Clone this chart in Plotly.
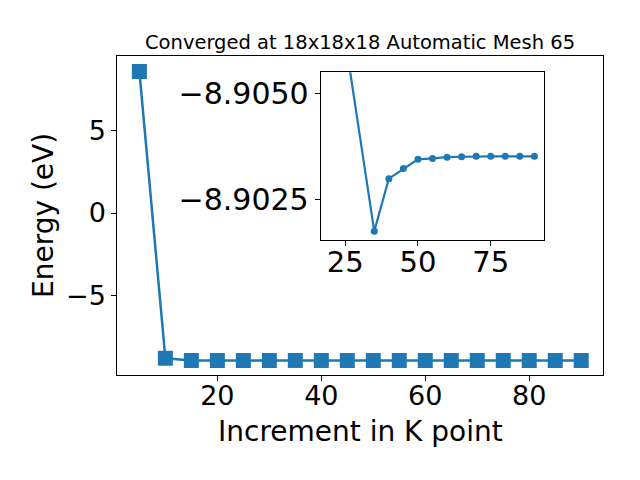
import plotly.graph_objects as go

# Main data
kpoints = [5, 10, 15, 20, 25, 30, 35, 40, 45, 50, 55, 60, 65, 70, 75, 80, 85, 90]
energy = [8.55, -8.77, -8.909, -8.907, -8.9063, -8.906, -8.90174, -8.90299, -8.90323,
          -8.90345, -8.90347, -8.9035, -8.90351, -8.90352, -8.90352, -8.90352, -8.90352, -8.90352]

# Inset data
inset_k = [25, 35, 40, 45, 50, 55, 60, 65, 70, 75, 80, 85, 90]
inset_energy = [-8.90631, -8.90174, -8.90299, -8.90323, -8.90345, -8.90347, -8.9035,
                -8.90351, -8.90352, -8.90352, -8.90352, -8.90352, -8.90352]

main_xticks = [20, 40, 60, 80]
main_yticks = [-5, 0, 5]
inset_xticks = [25, 50, 75]
inset_yticks = [-8.9050, -8.9025]

title = "Converged at 18x18x18 Automatic Mesh 65"
xlabel = "Increment in K point"
ylabel = "Energy (eV)"

C = "#1f77b4"
FONT = "DejaVu Sans"
W, H = 640, 480

fig = go.Figure()
fig.add_trace(go.Scatter(x=kpoints, y=energy, mode="lines+markers",
                         line=dict(color=C, width=2.5),
                         marker=dict(symbol="square", size=15, color=C),
                         xaxis="x", yaxis="y", showlegend=False))
fig.add_trace(go.Scatter(x=inset_k, y=inset_energy, mode="lines+markers",
                         line=dict(color=C, width=2.2),
                         marker=dict(symbol="circle", size=7, color=C),
                         xaxis="x2", yaxis="y2", showlegend=False, cliponaxis=True))

axcommon = dict(showline=True, mirror=True, linecolor="black", linewidth=1.1,
                ticks="outside", ticklen=5, tickwidth=1.1, tickcolor="black",
                showgrid=False, zeroline=False)

main_l, main_r, main_t, main_b = 117.3, 603.3, 56, 375
in_l, in_r, in_t, in_b = 320.7, 544, 72.3, 240

fig.update_layout(
    width=W, height=H, margin=dict(l=0, r=0, t=0, b=0),
    paper_bgcolor="white", plot_bgcolor="white",
    font=dict(family=FONT, color="black"),
    xaxis=dict(domain=[main_l / W, main_r / W], range=[0.75, 94.25],
               tickvals=main_xticks, tickfont=dict(size=27, family=FONT), anchor="y",
               ticklabelstandoff=-8, **axcommon),
    yaxis=dict(domain=[1 - main_b / H, 1 - main_t / H], range=[-9.78, 9.48],
               tickvals=main_yticks, tickfont=dict(size=27, family=FONT), anchor="x", **axcommon),
    xaxis2=dict(domain=[in_l / W, in_r / W], range=[16.6, 93.3],
                tickvals=inset_xticks, tickfont=dict(size=29, family=FONT), anchor="y2",
                ticklabelstandoff=-9, **axcommon),
    yaxis2=dict(domain=[1 - in_b / H, 1 - in_t / H], range=[-8.901534, -8.905515],
                tickvals=inset_yticks, tickformat=".4f",
                tickfont=dict(size=30, family=FONT), anchor="x2", **axcommon),
    annotations=[
        dict(text=title, x=(main_l + main_r) / 2 / W, y=1 - 42 / H, xref="paper", yref="paper",
             showarrow=False, font=dict(size=19.5, family=FONT), xanchor="center", yanchor="middle"),
        dict(text=xlabel, x=(main_l + main_r) / 2 / W, y=1 - 431 / H, xref="paper", yref="paper",
             showarrow=False, font=dict(size=28, family=FONT), xanchor="center", yanchor="middle"),
        dict(text=ylabel, x=44 / W, y=1 - 216 / H, xref="paper", yref="paper", textangle=-90,
             showarrow=False, font=dict(size=28, family=FONT), xanchor="center", yanchor="middle"),
    ],
)

fig.write_html("out.html", config={"displayModeBar": False},
               post_script="document.body.style.margin='0';")
